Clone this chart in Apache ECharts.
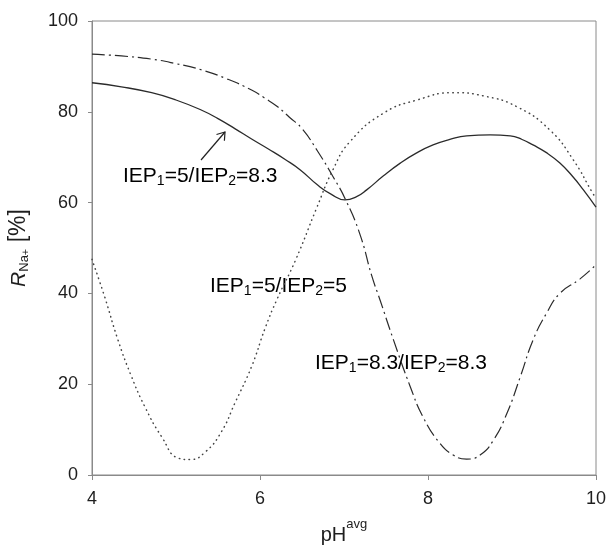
<!DOCTYPE html>
<html><head><meta charset="utf-8">
<script src="https://cdn.jsdelivr.net/npm/echarts@6/dist/echarts.min.js"></script>
<style>html,body{margin:0;padding:0;background:#fff}#c{width:607px;height:547px}</style>
</head><body><div id="c"></div>
<script>
// IEP1=5/IEP2=8.3 (solid)
var phA = [4.0, 4.35, 4.71, 5.0, 5.3, 5.5, 5.7, 5.9, 6.1, 6.3, 6.48, 6.69, 6.85, 7.01, 7.15, 7.27, 7.47, 7.67, 7.86, 8.06, 8.26, 8.46, 8.74, 8.98, 9.12, 9.25, 9.41, 9.57, 9.72, 9.85, 10.0];
var rA  = [86.4, 85.5, 84.2, 82.6, 80.4, 78.5, 76.3, 74.0, 71.8, 69.5, 67.2, 63.8, 61.8, 60.6, 61.3, 62.8, 65.9, 68.7, 70.9, 72.7, 73.9, 74.7, 74.9, 74.7, 73.9, 72.7, 71.0, 68.7, 65.8, 62.8, 59.0];
// IEP1=8.3/IEP2=8.3 (dash-dot)
var phB = [4.0, 4.35, 4.71, 5.0, 5.31, 5.6, 5.9, 6.05, 6.21, 6.35, 6.5, 6.69, 6.87, 7.02, 7.19, 7.33, 7.43, 7.59, 7.79, 7.94, 8.14, 8.3, 8.46, 8.62, 8.78, 8.94, 9.1, 9.25, 9.41, 9.57, 9.81, 10.0];
var rB  = [92.7, 92.3, 91.6, 90.6, 89.2, 87.3, 84.8, 83.1, 81.1, 78.8, 76.3, 71.2, 65.7, 60.6, 53.0, 43.9, 38.5, 29.7, 19.4, 12.8, 7.0, 4.4, 3.5, 4.4, 7.7, 13.6, 21.7, 29.7, 35.6, 40.0, 43.2, 46.3];
// IEP1=5/IEP2=5 (dotted)
var phC = [4.0, 4.15, 4.31, 4.47, 4.63, 4.83, 5.03, 5.17, 5.35, 5.54, 5.7, 5.9, 6.06, 6.2, 6.42, 6.67, 6.87, 7.07, 7.47, 7.87, 8.3, 8.66, 9.06, 9.45, 9.73, 9.96, 10.0];
var rC  = [47.5, 39.3, 29.7, 21.7, 15.0, 8.4, 3.7, 3.4, 5.1, 9.5, 15.8, 23.9, 32.3, 38.6, 47.2, 58.6, 67.3, 73.4, 79.7, 82.6, 84.2, 83.5, 81.1, 76.0, 69.4, 62.1, 61.0];

var xTicks = [4, 6, 8, 10];
var yTicks = [0, 20, 40, 60, 80, 100];

function zip(a, b) { return a.map(function (v, i) { return [v, b[i]]; }); }

var FONT = 'Liberation Sans';
var AX = '#8a8a8a';
var LC = '#2b2b2b';
var TC = '#1e1e1e';
var subRich = {
  m: { fontFamily: FONT, fontSize: 21, color: TC, lineHeight: 24 },
  s: { fontFamily: FONT, fontSize: 14, color: TC, lineHeight: 3, verticalAlign: 'bottom' }
};

var chart = echarts.init(document.getElementById('c'), null, { renderer: 'canvas' });
chart.setOption({
  animation: false,
  backgroundColor: '#fff',
  grid: { left: 92, right: 11, top: 21, bottom: 72, show: true, borderColor: AX, borderWidth: 1, outerBoundsMode: 'none', containLabel: false },
  xAxis: {
    type: 'value', min: xTicks[0], max: xTicks[xTicks.length - 1], interval: 2,
    name: '{m|pH}{a|avg}', nameLocation: 'middle', nameGap: 43,
    nameTextStyle: { rich: {
      m: { fontFamily: FONT, fontSize: 20, color: TC, lineHeight: 24 },
      a: { fontFamily: FONT, fontSize: 13, color: TC, lineHeight: 34, verticalAlign: 'top' }
    } },
    axisLine: { show: true, lineStyle: { color: AX, width: 1 } },
    axisTick: { show: true, inside: false, length: 5, lineStyle: { color: AX } },
    axisLabel: { fontFamily: FONT, fontSize: 18, color: TC, margin: 15 },
    splitLine: { show: false }
  },
  yAxis: {
    type: 'value', min: yTicks[0], max: yTicks[yTicks.length - 1], interval: 20,
    name: '{r|R}{s|Na}{p|+}{m| [%]}', nameLocation: 'middle', nameGap: 61, nameRotate: 90,
    nameTextStyle: { rich: {
      r: { fontFamily: FONT, fontSize: 21, fontStyle: 'italic', color: TC, lineHeight: 24 },
      m: { fontFamily: FONT, fontSize: 23, color: TC, lineHeight: 24 },
      s: { fontFamily: FONT, fontSize: 13, color: TC, lineHeight: 3, verticalAlign: 'bottom' },
      p: { fontFamily: FONT, fontSize: 11, color: TC, lineHeight: 14, verticalAlign: 'bottom' }
    } },
    axisLine: { show: true, lineStyle: { color: AX, width: 1 } },
    axisTick: { show: true, inside: false, length: 4, lineStyle: { color: AX } },
    axisLabel: { fontFamily: FONT, fontSize: 18, color: TC, margin: 14 },
    splitLine: { show: false }
  },
  series: [
    { name: 'IEP1=5/IEP2=8.3', type: 'line', data: zip(phA, rA), showSymbol: false, smooth: 0.5,
      lineStyle: { color: LC, width: 1.3 } },
    { name: 'IEP1=8.3/IEP2=8.3', type: 'line', data: zip(phB, rB), showSymbol: false, smooth: 0.5,
      lineStyle: { color: LC, width: 1.2, type: [13, 4, 2, 4] } },
    { name: 'IEP1=5/IEP2=5', type: 'line', data: zip(phC, rC), showSymbol: false, smooth: 0.5,
      lineStyle: { color: '#444', width: 1.5, type: [0.5, 4.5], cap: 'round' } }
  ],
  graphic: [
    { type: 'text', left: 123, top: 166, style: { text: '{m|IEP}{s|1}{m|=5/IEP}{s|2}{m|=8.3}', rich: subRich } },
    { type: 'text', left: 210, top: 276, style: { text: '{m|IEP}{s|1}{m|=5/IEP}{s|2}{m|=5}', rich: subRich } },
    { type: 'text', left: 315, top: 353, style: { text: '{m|IEP}{s|1}{m|=8.3/IEP}{s|2}{m|=8.3}', rich: subRich } },
    { type: 'line', shape: { x1: 201, y1: 160, x2: 225, y2: 132 }, style: { stroke: '#222', lineWidth: 1.2 } },
    { type: 'polyline', shape: { points: [[216.5, 134.5], [225, 132], [224.4, 140.8]] }, style: { stroke: '#222', lineWidth: 1.2, fill: null } }
  ]
});
</script></body></html>
